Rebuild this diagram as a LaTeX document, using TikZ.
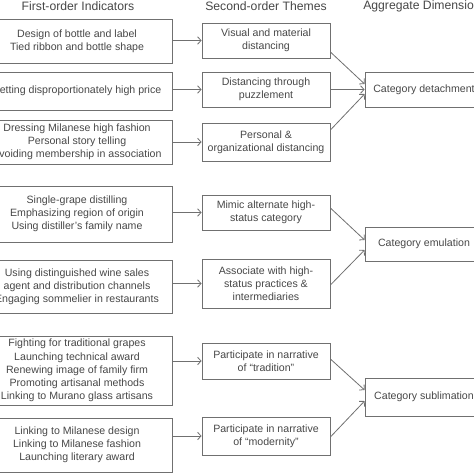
\documentclass[tikz,border=0pt]{standalone}
\usepackage{fontspec}
\setmainfont{Liberation Sans}
\usetikzlibrary{arrows.meta,calc}
\definecolor{txt}{HTML}{474747}
\definecolor{ln}{HTML}{707070}
\begin{document}
\begin{tikzpicture}[x=1pt,y=-1pt,
  box/.style={draw=ln,line width=0.8pt,text=txt,align=center,inner sep=0pt,
    font=\fontsize{10.6}{13.2}\selectfont},
  lbox/.style={box,minimum width=190pt},
  mbox/.style={box,minimum width=128pt},
  rbox/.style={box,minimum width=118pt},
  hdr/.style={text=txt,font=\fontsize{12.2}{14}\selectfont,inner sep=0pt},
  arr/.style={draw=ln,line width=0.8pt,-{Straight Barb[length=3.5pt,width=7.5pt,line width=0.8pt]}}]
\useasboundingbox (0,0) rectangle (474,474);
\clip (0,0) rectangle (474,474);
% headers
\node[hdr] (h1) at (78,6) {First-order Indicators};
\node[hdr] (h2) at (266,6) {Second-order Themes};
\node[hdr] (h3) at (425,6) {Aggregate Dimensions};
% left boxes
\node[lbox,minimum height=44pt] (L1) at (77,41) {Design of bottle and label\\Tied ribbon and bottle shape};
\node[lbox,minimum height=38pt] (L2) at (77,91) {Setting disproportionately high price};
\node[lbox,minimum height=44pt] (L3) at (77,142) {Dressing Milanese high fashion\\Personal story telling\\Avoiding membership in association};
\node[lbox,minimum height=56pt] (L4) at (77,214) {Single-grape distilling\\Emphasizing region of origin\\Using distiller’s family name};
\node[lbox,minimum height=53pt] (L5) at (77,286.5) {Using distinguished wine sales\\agent and distribution channels\\Engaging sommelier in restaurants};
\node[lbox,minimum height=69pt] (L6) at (77,370.5) {Fighting for traditional grapes\\Launching technical award\\Renewing image of family firm\\Promoting artisanal methods\\Linking to Murano glass artisans};
\node[lbox,minimum height=54pt] (L7) at (77,445) {Linking to Milanese design\\Linking to Milanese fashion\\Launching literary award};
% middle boxes
\node[mbox,minimum height=35pt] (A) at (266,40.5) {Visual and material\\distancing};
\node[mbox,minimum height=35pt] (B) at (266,89.5) {Distancing through\\puzzlement};
\node[mbox,minimum height=38pt] (C) at (266,142) {Personal \&\\organizational distancing};
\node[mbox,minimum height=35pt] (D) at (266,212.5) {Mimic alternate high-\\status category};
\node[mbox,minimum height=49pt] (E) at (266,283.5) {Associate with high-\\status practices \&\\intermediaries};
\node[mbox,minimum height=36pt] (F) at (266,361) {Participate in narrative\\of “tradition”};
\node[mbox,minimum height=38pt] (G) at (266,436) {Participate in narrative\\of “modernity”};
% right boxes
\node[rbox,minimum height=35pt] (R1) at (424,89.5) {Category detachment};
\node[rbox,minimum height=34pt] (R2) at (424,244) {Category emulation};
\node[rbox,minimum height=38pt] (R3) at (424,397) {Category sublimation};
% left to middle
\foreach \l/\m in {L1/A,L2/B,L3/C,L4/D,L5/E,L6/F,L7/G}
  \draw[arr] (\l.east |- \m.west) -- (\m.west);
% middle to right
\draw[arr] ($(A.east)+(0,11.5)$) -- ($(R1.west)+(0,-5.5)$);
\draw[arr] (B.east) -- (R1.west);
\draw[arr] ($(C.east)+(0,-12)$) -- ($(R1.west)+(0,4.5)$);
\draw[arr] ($(D.east)+(0,-4.5)$) -- ($(R2.west)+(0,-4)$);
\draw[arr] ($(E.east)+(0,1.5)$) -- ($(R2.west)+(0,6)$);
\draw[arr] ($(F.east)+(0,-2)$) -- ($(R3.west)+(0,-7)$);
\draw[arr] ($(G.east)+(0,1)$) -- ($(R3.west)+(0,4)$);
\end{tikzpicture}
\end{document}
